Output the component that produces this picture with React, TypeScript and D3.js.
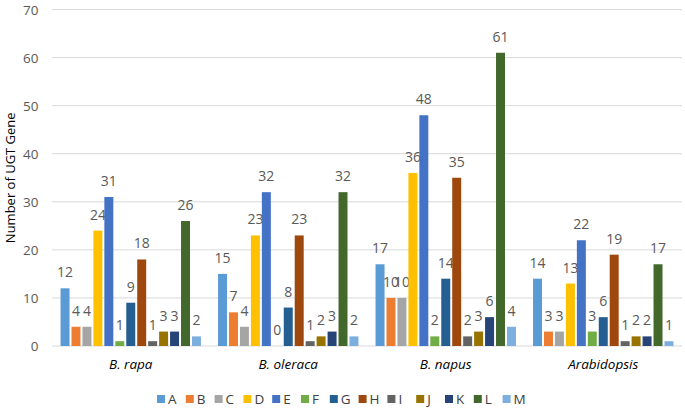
import React from "react";
import * as d3 from "d3";

const species = ["B. rapa", "B. oleraca", "B. napus", "Arabidopsis"];
const groups = ["A", "B", "C", "D", "E", "F", "G", "H", "I", "J", "K", "L", "M"];
const colors = ["#5B9BD5", "#ED7D31", "#A5A5A5", "#FFC000", "#4472C4", "#70AD47", "#255E91", "#9E480E", "#636363", "#997300", "#264478", "#43682B", "#7CAFDD"];
const rapa = [12, 4, 4, 24, 31, 1, 9, 18, 1, 3, 3, 26, 2];
const oleraca = [15, 7, 4, 23, 32, 0, 8, 23, 1, 2, 3, 32, 2];
const napus = [17, 10, 10, 36, 48, 2, 14, 35, 2, 3, 6, 61, 4];
const arabidopsis = [14, 3, 3, 13, 22, 3, 6, 19, 1, 2, 2, 17, 1];
const seriesBySpecies = [rapa, oleraca, napus, arabidopsis];
const yTicks = [0, 10, 20, 30, 40, 50, 60, 70];

const W = 685;
const H = 409;
const left = 52;
const right = 682;
const top = 9.5;
const bottom = 346;
const font = "'Open Sans', sans-serif";
const textColor = "#595959";

export default function App() {
  const x0 = d3.scaleBand<string>().domain(species).range([left, right]).padding(0);
  const x1 = d3
    .scaleBand<string>()
    .domain(groups)
    .range([0, x0.bandwidth()])
    .paddingInner(0.18)
    .paddingOuter(0.78);
  const y = d3.scaleLinear().domain([0, 70]).range([bottom, top]);

  const legendStep = 28.8;
  const legendStart = 157;

  return (
    <svg width={W} height={H} style={{ position: "absolute", left: 0, top: 0, background: "#fff" }}>
      {yTicks.map((t) => (
        <g key={t}>
          <line x1={left} x2={right} y1={y(t)} y2={y(t)} stroke="#D9D9D9" strokeWidth={1} />
          <text x={38.5} y={y(t) + 5} textAnchor="end" fontSize={13.5} fontFamily={font} fill={textColor}>
            {t}
          </text>
        </g>
      ))}
      <text
        transform={`translate(15,${(top + bottom) / 2}) rotate(-90)`}
        textAnchor="middle"
        fontSize={13}
        fontFamily={font}
        fill="#000"
      >
        Number of UGT Gene
      </text>
      {species.map((s, si) => (
        <g key={s} transform={`translate(${x0(s)},0)`}>
          {groups.map((g, gi) => {
            const v = seriesBySpecies[si][gi];
            const bx = x1(g)!;
            return (
              <g key={g}>
                <rect x={bx} y={y(v)} width={x1.bandwidth()} height={bottom - y(v)} fill={colors[gi]} />
                <text
                  x={bx + x1.bandwidth() / 2}
                  y={y(v) - 11}
                  textAnchor="middle"
                  fontSize={14}
                  fontFamily={font}
                  fill={textColor}
                >
                  {v}
                </text>
              </g>
            );
          })}
          <text
            x={x0.bandwidth() / 2}
            y={369}
            textAnchor="middle"
            fontSize={13.5}
            fontStyle="italic"
            fontFamily={font}
            fill="#000"
          >
            {s}
          </text>
        </g>
      ))}
      {groups.map((g, gi) => (
        <g key={g} transform={`translate(${legendStart + gi * legendStep},0)`}>
          <rect x={0} y={395} width={8} height={8} fill={colors[gi]} />
          <text x={11} y={404} fontSize={13.5} fontFamily={font} fill="#404040">
            {g}
          </text>
        </g>
      ))}
    </svg>
  );
}
